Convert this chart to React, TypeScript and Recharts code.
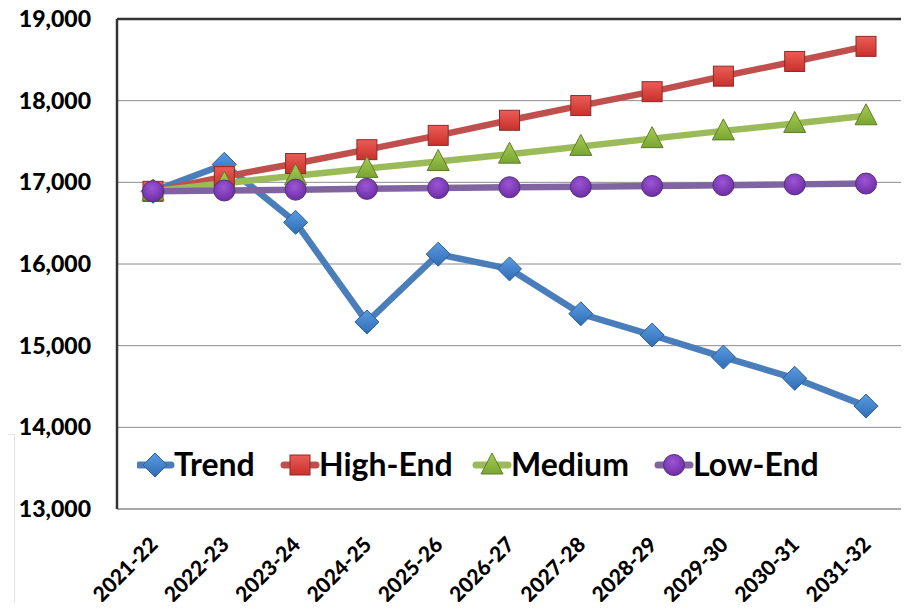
import {
  CartesianGrid,
  Legend,
  Line,
  LineChart,
  ReferenceLine,
  XAxis,
  YAxis,
} from "recharts";

const YEARS = [
  "2021-22", "2022-23", "2023-24", "2024-25", "2025-26", "2026-27",
  "2027-28", "2028-29", "2029-30", "2030-31", "2031-32",
];
const TREND = [16890, 17220, 16510, 15290, 16120, 15940, 15390, 15130, 14860, 14600, 14260];
const HIGH_END = [16890, 17070, 17230, 17400, 17575, 17760, 17940, 18110, 18300, 18480, 18665];
const MEDIUM = [16890, 16990, 17080, 17170, 17255, 17345, 17440, 17535, 17630, 17720, 17815];
const LOW_END = [16890, 16900, 16910, 16920, 16930, 16940, 16945, 16955, 16965, 16975, 16985];
const Y_TICKS = [13000, 14000, 15000, 16000, 17000, 18000, 19000];

const FONT = "Lato, 'Open Sans', sans-serif";

const SERIES = [
  { key: "trend", name: "Trend", line: "#4A7EBB", fill: "url(#gBlue)", edge: "#2f5f98", shape: "diamond" },
  { key: "high", name: "High-End", line: "#C0504D", fill: "url(#gRed)", edge: "#8c2a27", shape: "square" },
  { key: "medium", name: "Medium", line: "#9BBB59", fill: "url(#gGreen)", edge: "#5f7e27", shape: "triangle" },
  { key: "low", name: "Low-End", line: "#8064A2", fill: "url(#gPurple)", edge: "#55307a", shape: "circle" },
];

const data = YEARS.map((year, i) => ({
  year,
  trend: TREND[i],
  high: HIGH_END[i],
  medium: MEDIUM[i],
  low: LOW_END[i],
}));

function Marker({ shape, cx, cy, fill, edge }: { shape: string; cx: number; cy: number; fill: string; edge: string }) {
  if (shape === "diamond") {
    const r = 12;
    return <path d={`M${cx},${cy - r}L${cx + r},${cy}L${cx},${cy + r}L${cx - r},${cy}Z`} fill={fill} stroke={edge} strokeWidth={1} />;
  }
  if (shape === "square") {
    const r = 10;
    return <rect x={cx - r} y={cy - r} width={r * 2} height={r * 2} fill={fill} stroke={edge} strokeWidth={1} />;
  }
  if (shape === "triangle") {
    const r = 11;
    return <path d={`M${cx},${cy - r - 1}L${cx + r},${cy + r - 2}L${cx - r},${cy + r - 2}Z`} fill={fill} stroke={edge} strokeWidth={1} />;
  }
  return <circle cx={cx} cy={cy} r={10.5} fill={fill} stroke={edge} strokeWidth={1} />;
}

function YearTick({ x, y, payload }: any) {
  const ax = x + 6;
  const ay = y + 29;
  return (
    <text
      x={ax}
      y={ay}
      textAnchor="end"
      transform={`rotate(-45, ${ax}, ${ay})`}
      fontFamily={FONT}
      fontWeight={900}
      fontSize={21}
      fill="#000"
    >
      {payload.value}
    </text>
  );
}

function LegendContent() {
  const gaps = [0, 145, 337, 519];
  return (
    <svg width={720} height={44}>
      {SERIES.map((s, i) => (
        <g key={s.key} transform={`translate(${gaps[i]},0)`}>
          <line x1={2} x2={34} y1={22} y2={22} stroke={s.line} strokeWidth={7} strokeLinecap="round" />
          <Marker shape={s.shape} cx={18} cy={22} fill={s.fill} edge={s.edge} />
          <text x={37} y={33} fontFamily={FONT} fontWeight={700} fontSize={32} fill="#000">
            {s.name}
          </text>
        </g>
      ))}
    </svg>
  );
}

export default function App() {
  return (
    <div style={{ position: "relative", margin: -8, width: 909, height: 610, background: "#fff" }}>
      <div
        style={{
          position: "absolute",
          left: 0,
          top: 434,
          width: 14,
          height: 176,
          borderTop: "1px solid #e3e3e3",
          borderRight: "1px solid #e3e3e3",
        }}
      />
      <LineChart width={909} height={610} data={data} margin={{ top: 19, right: 7, left: 0, bottom: 0 }}>
        <defs>
          <linearGradient id="gBlue" x1="0" y1="0" x2="0" y2="1">
            <stop offset="0%" stopColor="#5b9be0" />
            <stop offset="100%" stopColor="#2e6db4" />
          </linearGradient>
          <linearGradient id="gRed" x1="0" y1="0" x2="0" y2="1">
            <stop offset="0%" stopColor="#ec5d57" />
            <stop offset="100%" stopColor="#c8302b" />
          </linearGradient>
          <linearGradient id="gGreen" x1="0" y1="0" x2="0" y2="1">
            <stop offset="0%" stopColor="#a6cc56" />
            <stop offset="100%" stopColor="#7aa532" />
          </linearGradient>
          <radialGradient id="gPurple" cx="0.45" cy="0.35" r="0.7">
            <stop offset="0%" stopColor="#9b55d6" />
            <stop offset="100%" stopColor="#6a2aa0" />
          </radialGradient>
        </defs>
        <CartesianGrid vertical={false} stroke="#8c8c8c" strokeWidth={1} yAxisId="l" />
        <XAxis
          dataKey="year"
          padding={{ left: 36, right: 36 }}
          height={101}
          axisLine={{ stroke: "#8c8c8c", strokeWidth: 1 }}
          tickLine={false}
          tick={<YearTick />}
          interval={0}
        />
        <YAxis
          yAxisId="l"
          domain={[13000, 19000]}
          ticks={Y_TICKS}
          width={117}
          axisLine={{ stroke: "#333", strokeWidth: 2.5 }}
          tickLine={false}
          tickMargin={20}
          tickFormatter={(v: number) => v.toLocaleString("en-US")}
          tick={{ fontFamily: FONT, fontWeight: 900, fontSize: 23, fill: "#000" }}
        />
        <YAxis
          yAxisId="r"
          orientation="right"
          domain={[13000, 19000]}
          width={0}
          tick={false}
          tickLine={false}
          axisLine={{ stroke: "#333", strokeWidth: 2.5 }}
        />
        <ReferenceLine yAxisId="l" y={19000} stroke="#333" strokeWidth={2.5} />
        {SERIES.map((s) => (
          <Line
            key={s.key}
            yAxisId="l"
            dataKey={s.key}
            name={s.name}
            stroke={s.line}
            strokeWidth={6.5}
            isAnimationActive={false}
            dot={(p: any) => (
              <Marker key={`${s.key}-${p.index}`} shape={s.shape} cx={p.cx} cy={p.cy} fill={s.fill} edge={s.edge} />
            )}
            activeDot={false}
          />
        ))}
        <Legend
          verticalAlign="middle"
          content={<LegendContent />}
          wrapperStyle={{ position: "absolute", left: 137, top: 443, width: 720, height: 44 }}
        />
      </LineChart>
    </div>
  );
}
